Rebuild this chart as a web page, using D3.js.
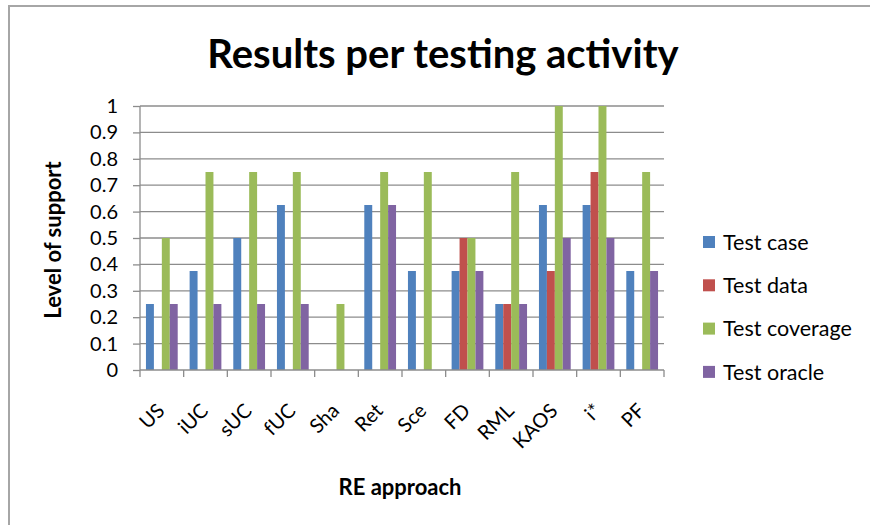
<!DOCTYPE html>
<html>
<head>
<meta charset="utf-8">
<script src="https://d3js.org/d3.v7.min.js"></script>
<style>
    body { margin: 0; background: #fff; }
    text { font-family: Lato, "Open Sans", sans-serif; fill: #000; }
</style>
</head>
<body>
<script>

// RE approaches on the x axis
var approaches = ["US", "iUC", "sUC", "fUC", "Sha", "Ret", "Sce", "FD", "RML", "KAOS", "i*", "PF"];

var seriesNames = ["Test case", "Test data", "Test coverage", "Test oracle"];
var seriesColors = ["#4f81bd", "#c0504d", "#9bbb59", "#8064a2"];

var testCase     = [0.25, 0.375, 0.5, 0.625, 0, 0.625, 0.375, 0.375, 0.25, 0.625, 0.625, 0.375];
var testData     = [0, 0, 0, 0, 0, 0, 0, 0.5, 0.25, 0.375, 0.75, 0];
var testCoverage = [0.5, 0.75, 0.75, 0.75, 0.25, 0.75, 0.75, 0.5, 0.75, 1, 1, 0.75];
var testOracle   = [0.25, 0.25, 0.25, 0.25, 0, 0.625, 0, 0.375, 0.25, 0.5, 0.5, 0.375];

var yTicks = [0, 0.1, 0.2, 0.3, 0.4, 0.5, 0.6, 0.7, 0.8, 0.9, 1];

var series = [testCase, testData, testCoverage, testOracle];

var w = 870;
var h = 525;

var svg = d3.select("body")
    .append("svg")
    .attr("width", w)
    .attr("height", h);

// chart frame, runs off the right and bottom edges
svg.append("rect")
    .attr("x", 9)
    .attr("y", 6)
    .attr("width", 900)
    .attr("height", 560)
    .style("fill", "none")
    .style("stroke", "#a6a6a6")
    .style("stroke-width", 2);

// plot area (don't call it "top", window.top is taken)
var plotL = 140, plotR = 664, plotT = 106, plotB = 370;

var xScale = d3.scaleBand()
    .domain(approaches)
    .range([plotL, plotR]);

var yScale = d3.scaleLinear()
    .domain([0, 1])
    .range([plotB, plotT]);

// 4 bars per category with a 150% gap
var barW = xScale.bandwidth() / 5.5;
var barOff = barW * 0.75;

// gridlines
svg.append("g")
    .selectAll("line")
    .data(yTicks.slice(1))
    .enter()
    .append("line")
    .attr("x1", plotL)
    .attr("x2", plotR)
    .attr("y1", function (d) { return yScale(d); })
    .attr("y2", function (d) { return yScale(d); })
    .style("stroke", "#8c8c8c")
    .style("stroke-width", 1.3);

// bars
series.forEach(function (vals, si) {
    svg.append("g")
        .selectAll("rect")
        .data(vals)
        .enter()
        .append("rect")
        .attr("x", function (d, i) { return xScale(approaches[i]) + barOff + si * barW; })
        .attr("y", function (d) { return yScale(d); })
        .attr("width", barW)
        .attr("height", function (d) { return plotB - yScale(d); })
        .style("fill", seriesColors[si]);
});

// y axis
var yAxis = d3.axisLeft(yScale)
    .tickValues(yTicks)
    .tickSize(7)
    .tickPadding(15)
    .tickFormat(function (d) { return d === 0 || d === 1 ? d : d.toFixed(1); });
var gy = svg.append("g")
    .attr("transform", "translate(" + plotL + ",0)")
    .call(yAxis);
gy.select(".domain").remove();
gy.append("line")
    .attr("y1", plotT)
    .attr("y2", plotB)
    .style("stroke", "#8c8c8c")
    .style("stroke-width", 1.3);
gy.selectAll(".tick line").style("stroke", "#8c8c8c").style("stroke-width", 1.3);
gy.selectAll("text").style("font-size", "20px").attr("fill", "#000");

// x axis, ticks between the categories
var gx = svg.append("g")
    .attr("transform", "translate(0," + plotB + ")");
gx.append("line")
    .attr("x1", plotL)
    .attr("x2", plotR)
    .style("stroke", "#8c8c8c")
    .style("stroke-width", 1.3);
gx.selectAll(".tk")
    .data(d3.range(approaches.length + 1))
    .enter()
    .append("line")
    .attr("class", "tk")
    .attr("x1", function (d) { return plotL + d * xScale.bandwidth(); })
    .attr("x2", function (d) { return plotL + d * xScale.bandwidth(); })
    .attr("y1", 0)
    .attr("y2", 7)
    .style("stroke", "#8c8c8c")
    .style("stroke-width", 1.3);
gx.selectAll(".lbl")
    .data(approaches)
    .enter()
    .append("text")
    .attr("class", "lbl")
    .attr("transform", function (d) {
        return "translate(" + (xScale(d) + xScale.bandwidth() / 2 + 4) + ",42) rotate(-45)";
    })
    .style("text-anchor", "end")
    .style("font-size", "20px")
    .text(function (d) { return d; });

// titles
svg.append("text")
    .attr("x", 443)
    .attr("y", 68)
    .style("text-anchor", "middle")
    .style("font-size", "40px")
    .style("font-weight", "bold")
    .text("Results per testing activity");

svg.append("text")
    .attr("x", 400)
    .attr("y", 495)
    .style("text-anchor", "middle")
    .style("font-size", "22px")
    .style("font-weight", "bold")
    .text("RE approach");

svg.append("text")
    .attr("transform", "translate(61,240) rotate(-90)")
    .style("text-anchor", "middle")
    .style("font-size", "22px")
    .style("font-weight", "bold")
    .text("Level of support");

// legend
var legend = svg.selectAll(".legend")
    .data(seriesNames)
    .enter().append("g")
    .attr("class", "legend")
    .attr("transform", function (d, i) { return "translate(703," + (242 + i * 43.3) + ")"; });

legend.append("rect")
    .attr("x", 0)
    .attr("y", -6)
    .attr("width", 12)
    .attr("height", 12)
    .style("fill", function (d, i) { return seriesColors[i]; });

legend.append("text")
    .attr("x", 20)
    .attr("dy", ".36em")
    .style("font-size", "21.5px")
    .text(function (d) { return d; });

</script>
</body>
</html>
